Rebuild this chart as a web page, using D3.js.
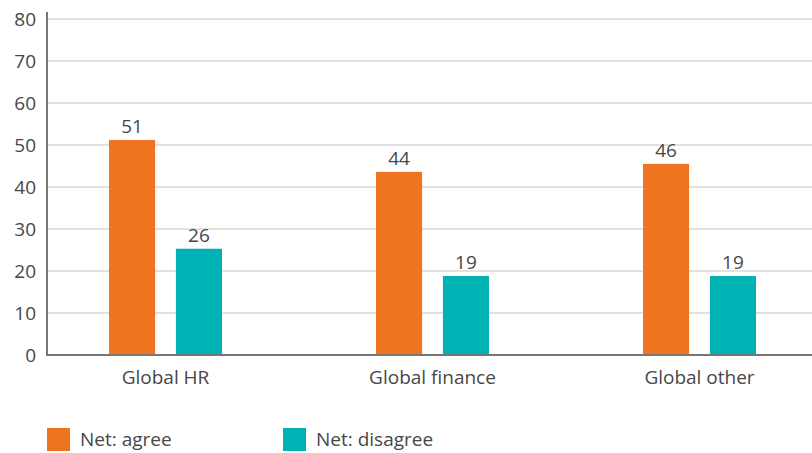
<!DOCTYPE html>
<html><head><meta charset="utf-8">
<script src="https://cdn.jsdelivr.net/npm/d3@7"></script>
<style>
html,body{margin:0;padding:0;background:#fff;}
svg{display:block;font-family:"Open Sans",sans-serif;}
</style></head>
<body>
<svg id="chart" width="812" height="453"></svg>
<script>
const categories = ["Global HR", "Global finance", "Global other"];
const seriesNames = ["Net: agree", "Net: disagree"];
const agree = [51.2, 43.6, 45.5];
const disagree = [25.3, 18.8, 18.8];
const agreeLabels = ["51", "44", "46"];
const disagreeLabels = ["26", "19", "19"];
const yTicks = [0, 10, 20, 30, 40, 50, 60, 70, 80];
const colors = ["#EE741F", "#00B2B4"];

const FONT = "'Open Sans',sans-serif";
const FS = 19;
const TXT = "#474747";
const svg = d3.select("#chart");
const y = d3.scaleLinear().domain([0, 80]).range([355, 19]);
const x = d3.scaleBand().domain(categories).range([32, 833]).padding(0);
const inner = d3.scaleBand().domain(seriesNames).range([0, 113]).paddingInner(21/67.5);

// gridlines
svg.append("g").selectAll("line").data(yTicks.filter(d => d > 0)).join("line")
  .attr("x1", 47).attr("x2", 812)
  .attr("y1", d => y(d)).attr("y2", d => y(d))
  .attr("stroke", "#d9d9d9").attr("stroke-width", 1.5);

const series = [agree, disagree];
const labels = [agreeLabels, disagreeLabels];
const g = svg.append("g");
categories.forEach((c, i) => {
  const gx = x(c) + x.bandwidth() / 2 - 113 / 2;
  seriesNames.forEach((s, j) => {
    const v = series[j][i];
    g.append("rect")
      .attr("x", gx + inner(s)).attr("width", inner.bandwidth())
      .attr("y", y(v)).attr("height", y(0) - y(v))
      .attr("fill", colors[j]);
    g.append("text")
      .attr("x", gx + inner(s) + inner.bandwidth() / 2)
      .attr("y", y(v) - 7)
      .attr("text-anchor", "middle")
      .attr("font-size", FS).attr("fill", TXT)
      .text(labels[j][i]);
  });
});

// y axis
const yAxis = d3.axisLeft(y).tickValues(yTicks).tickSize(0).tickPadding(11);
const ya = svg.append("g").attr("transform", "translate(47,0)").call(yAxis);
ya.select(".domain").remove();
ya.selectAll("text").attr("font-size", FS).attr("fill", TXT).attr("font-family", FONT);
svg.append("line").attr("x1", 47).attr("x2", 47).attr("y1", 12).attr("y2", 356)
  .attr("stroke", "#777").attr("stroke-width", 2);

// x axis
const xAxis = d3.axisBottom(x).tickSize(0).tickPadding(16);
const xa = svg.append("g").attr("transform", "translate(0,355)").call(xAxis);
xa.select(".domain").remove();
xa.selectAll("text").attr("font-size", FS).attr("fill", TXT).attr("font-family", FONT);
svg.append("line").attr("x1", 46).attr("x2", 812).attr("y1", 355).attr("y2", 355)
  .attr("stroke", "#777").attr("stroke-width", 2);

// legend
const legendX = [47, 283];
const lg = svg.append("g");
seriesNames.forEach((s, j) => {
  lg.append("rect").attr("x", legendX[j]).attr("y", 428).attr("width", 23).attr("height", 23).attr("fill", colors[j]);
  lg.append("text").attr("x", legendX[j] + 33).attr("y", 446)
    .attr("font-size", FS).attr("fill", TXT).text(s);
});
</script>
</body></html>
